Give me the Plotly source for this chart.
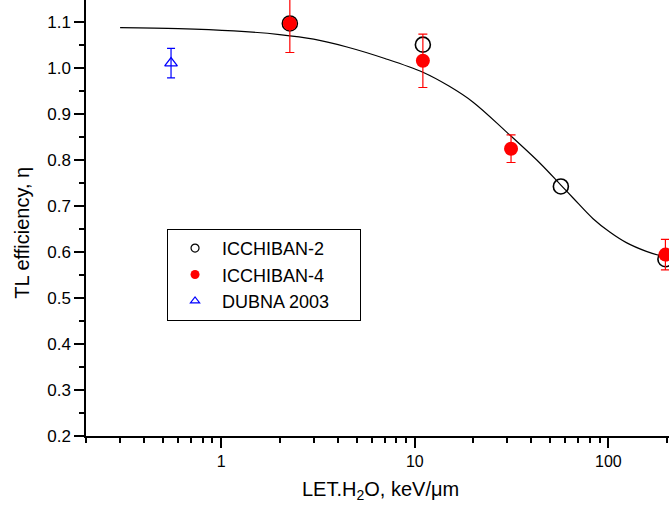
import plotly.graph_objects as go

# Fitted efficiency curve (sampled along the drawn fit)
fit_let = [0.3, 0.6, 1.16, 2.0, 3.0, 4.46, 7.0, 11.0, 15.0, 20.0, 29.8, 44.2,
           56.8, 65.7, 83.3, 101.6, 123.8, 157.0, 183.8, 210.0]
fit_eta = [1.087, 1.085, 1.080, 1.072, 1.062, 1.045, 1.020, 0.990, 0.960, 0.925,
           0.860, 0.793, 0.745, 0.717, 0.672, 0.643, 0.620, 0.601, 0.592, 0.587]

# ICCHIBAN-2 measurements
ich2_let = [2.26, 11.0, 56.8, 197.0]
ich2_eta = [1.096, 1.050, 0.742, 0.584]

# ICCHIBAN-4 measurements with uncertainties
ich4_let = [2.26, 11.0, 31.4, 197.0]
ich4_eta = [1.096, 1.015, 0.824, 0.594]
ich4_err = [0.063, 0.058, 0.030, 0.033]

# DUBNA 2003 measurement
dub_let = [0.55]
dub_eta = [1.010]
dub_err = [0.032]

legend_names = ["ICCHIBAN-2", "ICCHIBAN-4", "DUBNA 2003"]

FONT = "Arial, 'Liberation Sans', sans-serif"

fig = go.Figure()

fig.add_trace(go.Scatter(
    x=fit_let, y=fit_eta, mode="lines",
    line=dict(color="black", width=1.2, shape="spline", smoothing=1.0),
    showlegend=False, hoverinfo="skip",
))

fig.add_trace(go.Scatter(
    x=ich2_let, y=ich2_eta, mode="markers",
    marker=dict(symbol="circle-open", size=15, color="black", line=dict(width=1.6)),
    showlegend=False,
))

fig.add_trace(go.Scatter(
    x=ich4_let, y=ich4_eta, mode="markers",
    marker=dict(symbol="circle", size=14, color="red", line=dict(width=0)),
    error_y=dict(type="data", array=ich4_err, color="red", thickness=1.2, width=4.5),
    showlegend=False,
))

fig.add_trace(go.Scatter(
    x=dub_let, y=dub_eta, mode="markers",
    marker=dict(symbol="triangle-up-open", size=11, color="blue", line=dict(width=1.3)),
    error_y=dict(type="data", array=dub_err, color="blue", thickness=1.2, width=4),
    showlegend=False,
))

# legend entries with small symbols; trailing spaces widen the legend box
legend_symbols = [
    dict(symbol="circle-open", size=8, color="black", line=dict(width=1.2)),
    dict(symbol="circle", size=9, color="red"),
    dict(symbol="triangle-up-open", size=8, color="blue", line=dict(width=1.2)),
]
for name, mk in zip(legend_names, legend_symbols):
    fig.add_trace(go.Scatter(x=[None], y=[None], mode="markers",
                             name=name + "\u00a0" * 5, marker=mk))

minor_x = [m * 10 ** e for e in range(-1, 3) for m in range(2, 10)]

fig.update_xaxes(
    type="log", range=[-0.699, 2.313],
    tickvals=[1, 10, 100], ticktext=["1", "10", "100"],
    ticks="outside", ticklen=10, tickwidth=1.5, tickcolor="black",
    minor=dict(tickvals=minor_x, ticks="outside", ticklen=5, tickwidth=1.5, tickcolor="black"),
    showline=True, linecolor="black", linewidth=1.5,
    showgrid=False, zeroline=False,
    tickfont=dict(family=FONT, size=16, color="black"),
)
fig.update_yaxes(
    range=[0.2, 1.147], dtick=0.1, tick0=0.2, tickformat=".1f",
    ticks="outside", ticklen=10, tickwidth=1.5, tickcolor="black",
    minor=dict(dtick=0.05, tick0=0.2, ticks="outside", ticklen=5, tickwidth=1.5, tickcolor="black"),
    showline=True, linecolor="black", linewidth=1.5,
    showgrid=False, zeroline=False,
    tickfont=dict(family=FONT, size=17, color="black"),
)

fig.add_annotation(
    text="TL efficiency, \u03b7", textangle=-90,
    xref="paper", yref="paper", x=-0.110, y=0.466,
    xanchor="center", yanchor="middle", showarrow=False,
    font=dict(family=FONT, size=20, color="black"),
)
fig.add_annotation(
    text="LET.H<sub>2</sub>O, keV/\u03bcm",
    xref="paper", yref="paper", x=0.506, y=-0.125,
    xanchor="center", yanchor="middle", showarrow=False,
    font=dict(family=FONT, size=20, color="black"),
)

fig.update_layout(
    width=669, height=508,
    margin=dict(l=86, r=0, t=0, b=72),
    paper_bgcolor="white", plot_bgcolor="white",
    font=dict(family=FONT, color="black"),
    legend=dict(
        x=0.139, y=0.475, xanchor="left", yanchor="top",
        bordercolor="black", borderwidth=1, bgcolor="white",
        font=dict(family=FONT, size=18, color="black"),
        itemwidth=44,
    ),
)

fig.write_html("out.html")
